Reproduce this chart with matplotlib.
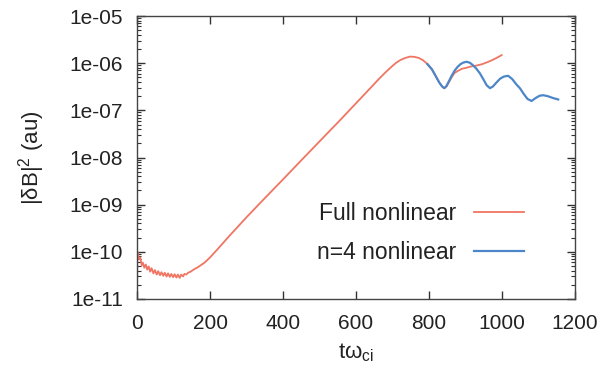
import matplotlib
matplotlib.use("Agg")
import matplotlib.pyplot as plt
from matplotlib.ticker import FixedLocator, FuncFormatter, LogLocator, NullFormatter

plt.rcParams['font.family'] = ['Liberation Sans', 'DejaVu Sans']
plt.rcParams['mathtext.fontset'] = 'custom'
plt.rcParams['mathtext.rm'] = 'Liberation Sans'
plt.rcParams['mathtext.it'] = 'Liberation Sans'
plt.rcParams['mathtext.default'] = 'regular'

# Full nonlinear run
t_full = [0, 1, 3, 6, 9, 13, 16, 20, 24, 28, 32, 36, 40, 45, 49, 54, 58, 63, 67, 72,
          76, 81, 85, 90, 94, 99, 103, 108, 112, 117, 121, 126, 130, 135, 140, 147,
          155, 162, 170, 185, 200, 220, 250, 300, 350, 400, 450, 500, 550, 600, 640,
          660, 680, 695, 710, 722, 735, 748, 760, 772, 784, 796, 808, 818, 828, 836,
          842, 848, 855, 862, 870, 880, 890, 900, 915, 930, 945, 960, 972, 985, 999]
b_full = [1.0e-11, 1.0e-10, 8.5e-11, 7.0e-11, 7.6e-11, 5.2e-11, 5.9e-11, 4.6e-11,
          5.4e-11, 4.2e-11, 4.9e-11, 3.8e-11, 4.5e-11, 3.5e-11, 4.1e-11, 3.3e-11,
          3.9e-11, 3.2e-11, 3.7e-11, 3.1e-11, 3.6e-11, 3.0e-11, 3.5e-11, 2.95e-11,
          3.4e-11, 2.9e-11, 3.35e-11, 2.85e-11, 3.3e-11, 2.8e-11, 3.3e-11, 3.0e-11,
          3.4e-11, 3.3e-11, 3.6e-11, 3.8e-11, 4.2e-11, 4.5e-11, 4.9e-11, 5.9e-11,
          7.6e-11, 1.12e-10, 2.05e-10, 5.4e-10, 1.37e-09, 3.43e-09, 8.7e-09, 2.19e-08,
          5.5e-08, 1.41e-07, 3.0e-07, 4.4e-07, 6.3e-07, 8.1e-07, 1.02e-06, 1.17e-06,
          1.29e-06, 1.38e-06, 1.36e-06, 1.29e-06, 1.15e-06, 9.5e-07, 7.4e-07, 5.4e-07,
          3.9e-07, 3.2e-07, 2.95e-07, 3.2e-07, 4.0e-07, 5.0e-07, 6.2e-07, 6.9e-07,
          7.6e-07, 7.9e-07, 8.5e-07, 8.9e-07, 9.5e-07, 1.05e-06, 1.15e-06, 1.29e-06,
          1.48e-06]

# n=4 nonlinear run
t_n4 = [796, 808, 818, 828, 836, 842, 848, 855, 862, 870, 878, 886, 894, 903, 912,
        920, 930, 940, 950, 958, 967, 975, 985, 995, 1005, 1017, 1028, 1040, 1049,
        1060, 1070, 1081, 1092, 1103, 1113, 1125, 1140, 1154]
b_n4 = [9.5e-07, 7.4e-07, 5.4e-07, 3.9e-07, 3.2e-07, 2.95e-07, 3.3e-07, 4.2e-07,
        5.4e-07, 6.9e-07, 8.3e-07, 9.5e-07, 1.03e-06, 1.07e-06, 1.02e-06, 9.1e-07,
        7.6e-07, 6.0e-07, 4.4e-07, 3.4e-07, 2.95e-07, 3.2e-07, 3.9e-07, 4.7e-07,
        5.2e-07, 5.4e-07, 4.6e-07, 3.5e-07, 2.95e-07, 2.2e-07, 1.74e-07, 1.58e-07,
        1.82e-07, 2.04e-07, 2.09e-07, 2.0e-07, 1.82e-07, 1.70e-07]

x_ticks = [0, 200, 400, 600, 800, 1000, 1200]
y_ticks = [1e-11, 1e-10, 1e-09, 1e-08, 1e-07, 1e-06, 1e-05]

fig = plt.figure(figsize=(6.04, 3.81), dpi=100)
ax = fig.add_axes([137/604, 1-299/381, 438/604, 283/381])

ax.plot(t_full, b_full, color='#f07562', lw=1.3, label='Full nonlinear')
ax.plot(t_n4, b_n4, color='#4d86c8', lw=1.6, label='n=4 nonlinear')

ax.set_yscale('log')
ax.set_xlim(0, 1200)
ax.set_ylim(1e-11, 1e-05)
ax.xaxis.set_major_locator(FixedLocator(x_ticks))
ax.yaxis.set_major_locator(FixedLocator(y_ticks))
ax.yaxis.set_minor_locator(LogLocator(base=10, subs=range(2, 10), numticks=20))
ax.yaxis.set_minor_formatter(NullFormatter())
ax.yaxis.set_major_formatter(FuncFormatter(lambda v, p: f"{v:.0e}"))

ax.tick_params(which='both', direction='in', top=True, right=True, colors='#333333',
               labelcolor='#222222', labelsize=15)
ax.tick_params(which='major', length=6, width=1)
ax.tick_params(which='minor', length=3, width=0.8)
ax.tick_params(axis='y', pad=10)
ax.tick_params(axis='x', pad=11)
for s in ax.spines.values():
    s.set_color('#444444')
    s.set_linewidth(1.0)

ax.set_xlabel(r'tω$_{ci}$', fontsize=16, color='#222222', labelpad=6)
ax.set_ylabel(r'|δB|$^{2}$ (au)', fontsize=16, color='#222222', labelpad=16)

leg = ax.legend(loc='upper right', bbox_to_anchor=(524/604, 1-202/381),
                bbox_transform=fig.transFigure, frameon=False, markerfirst=False,
                fontsize=16.5, handlelength=2.2, handletextpad=0.75, labelspacing=0.7,
                borderpad=0, borderaxespad=0)
for txt in leg.get_texts():
    txt.set_color('#222222')

fig.savefig('out.png', dpi=100)
